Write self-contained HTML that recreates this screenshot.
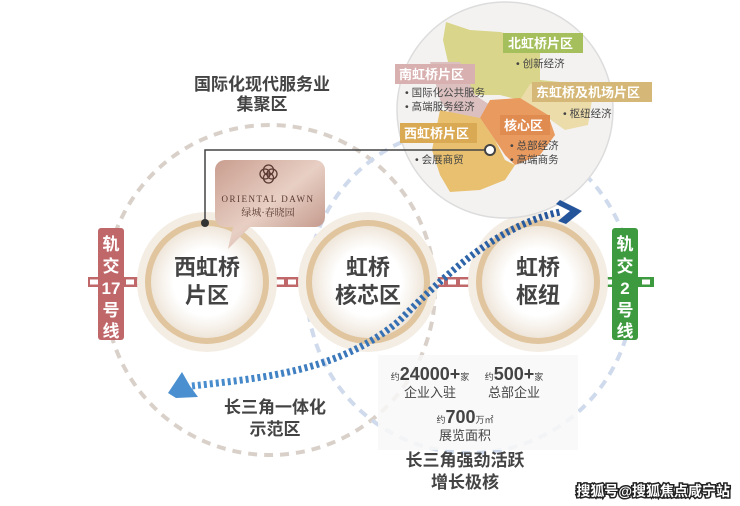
<!DOCTYPE html>
<html><head><meta charset="utf-8"><style>
html,body{margin:0;padding:0;background:#fff;}
svg{display:block;font-family:"Liberation Sans","Noto Sans CJK SC",sans-serif;}
</style></head><body>
<svg width="740" height="506" viewBox="0 0 740 506" xmlns="http://www.w3.org/2000/svg">
<defs>
<radialGradient id="inner" cx="50%" cy="50%" r="50%">
<stop offset="0.6" stop-color="#fff"/><stop offset="1" stop-color="#efe6da"/></radialGradient>
<linearGradient id="card" x1="0" y1="0" x2="1" y2="1">
<stop offset="0" stop-color="#c99e8f"/><stop offset="0.5" stop-color="#e8cfc4"/><stop offset="1" stop-color="#b98a7c"/></linearGradient>
<linearGradient id="blu" x1="0" y1="0" x2="1" y2="0">
<stop offset="0" stop-color="#4a90d0"/><stop offset="1" stop-color="#24549a"/></linearGradient>
</defs>
<circle cx="270" cy="290" r="165" fill="none" stroke="#d9d1c9" stroke-width="4" stroke-dasharray="9 7"/>
<circle cx="470" cy="290" r="163" fill="none" stroke="#cfdaec" stroke-width="4" stroke-dasharray="9 7"/>
<rect x="378" y="355" width="200" height="95" fill="#f8f8f8" opacity="0.85"/>
<g>
<rect x="88" y="277" width="70" height="10" fill="#c0676a"/>
<rect x="262" y="277" width="50" height="10" fill="#c0676a"/>
<rect x="422" y="277" width="62" height="10" fill="#c0676a"/>
<rect x="592" y="277" width="62" height="10" fill="#3e9a3e"/>
<g stroke="#fff" stroke-width="5" stroke-dasharray="8 4">
<line x1="90" y1="282" x2="158" y2="282"/><line x1="264" y1="282" x2="312" y2="282"/>
<line x1="424" y1="282" x2="484" y2="282"/><line x1="594" y1="282" x2="654" y2="282"/></g>
</g>
<g>
<circle cx="207" cy="282" r="70" fill="#f4ede4"/><circle cx="207" cy="282" r="62" fill="#e0c59e"/><circle cx="207" cy="282" r="56" fill="url(#inner)"/>
<circle cx="368" cy="282" r="70" fill="#f4ede4"/><circle cx="368" cy="282" r="62" fill="#e0c59e"/><circle cx="368" cy="282" r="56" fill="url(#inner)"/>
<circle cx="538" cy="282" r="70" fill="#f4ede4"/><circle cx="538" cy="282" r="62" fill="#e0c59e"/><circle cx="538" cy="282" r="56" fill="url(#inner)"/>
</g>
<g font-size="22" font-weight="bold" fill="#444" text-anchor="middle">
<text x="207" y="275">西虹桥</text><text x="207" y="303">片区</text>
<text x="368" y="275">虹桥</text><text x="368" y="303">核芯区</text>
<text x="538" y="275">虹桥</text><text x="538" y="303">枢纽</text>
</g>
<rect x="98" y="228" width="26" height="112" rx="3" fill="#c0676a"/>
<rect x="612" y="228" width="26" height="112" rx="3" fill="#3e9a3e"/>
<g font-size="17" font-weight="bold" fill="#fff" text-anchor="middle">
<text x="111" y="250">轨</text><text x="111" y="272">交</text><text x="111" y="294">17</text><text x="111" y="316">号</text><text x="111" y="337">线</text>
<text x="625" y="250">轨</text><text x="625" y="272">交</text><text x="625" y="294">2</text><text x="625" y="316">号</text><text x="625" y="337">线</text>
</g>
<circle cx="505" cy="110" r="108" fill="#f3f2f1" stroke="#dcdcdc" stroke-width="1.5"/>
<path d="M446,22 L470,30 L500,32 L525,38 L540,50 L540,80 L560,82 L545,100 L520,100 L500,95 L475,95 L460,70 L448,62 L443,40 Z" fill="#d9d58a"/>
<path d="M430,62 L460,62 L475,95 L490,105 L480,118 L455,120 L440,100 Z" fill="#dcc0c0"/>
<path d="M530,84 L575,84 L592,100 L588,125 L565,130 L548,118 L520,100 Z" fill="#ecdcaa"/>
<path d="M490,100 L520,98 L548,115 L555,135 L540,155 L515,165 L505,155 L495,140 L480,118 Z" fill="#e99a5e"/>
<path d="M440,110 L480,118 L495,140 L505,160 L515,165 L505,180 L480,190 L450,192 L440,175 L432,150 Z" fill="#e8c070"/>
<rect x="503" y="33" width="80" height="20" fill="#a5bf5c"/>
<rect x="395" y="64" width="80" height="20" fill="#d8b0b0"/>
<rect x="532" y="82" width="120" height="20" fill="#d5b877"/>
<rect x="500" y="115" width="50" height="20" fill="#e08b50"/>
<rect x="400" y="123" width="77" height="20" fill="#daa954"/>
<g font-size="13" font-weight="bold" fill="#fff">
<text x="508" y="48">北虹桥片区</text><text x="399" y="79">南虹桥片区</text>
<text x="536" y="97">东虹桥及机场片区</text><text x="504" y="130">核心区</text>
<text x="404" y="138">西虹桥片区</text></g>
<g font-size="10.5" fill="#444">
<text x="516" y="67">• 创新经济</text><text x="405" y="96">• 国际化公共服务</text><text x="405" y="110">• 高端服务经济</text>
<text x="563" y="117">• 枢纽经济</text><text x="510" y="149">• 总部经济</text><text x="510" y="163">• 高端商务</text>
<text x="415" y="163">• 会展商贸</text></g>
<polyline points="205,222 205,150 488,150" fill="none" stroke="#444" stroke-width="1.5"/>
<circle cx="490" cy="150" r="5" fill="#fff" stroke="#444" stroke-width="2"/>
<circle cx="205" cy="223" r="4" fill="#333"/>
<path d="M225,160 h90 a10,10 0 0 1 10,10 v47 a10,10 0 0 1 -10,10 h-65 l-22,22 l5,-22 h-8 a10,10 0 0 1 -10,-10 v-47 a10,10 0 0 1 10,-10 z" fill="url(#card)"/>
<g fill="none" stroke="#5a3a32" stroke-width="1.3"><circle cx="265" cy="174" r="5"/><circle cx="272" cy="174" r="5"/><circle cx="268.5" cy="170" r="5"/><circle cx="268.5" cy="178" r="5"/></g>
<text x="268" y="202" font-size="9" fill="#5a3a32" text-anchor="middle" font-family="Liberation Serif,serif" letter-spacing="1.5">ORIENTAL DAWN</text>
<text x="268" y="216" font-size="10" fill="#5a3a32" text-anchor="middle" font-family="'Liberation Serif','Noto Serif CJK SC',serif">绿城·春晓园</text>
<path d="M192,386 C260,378 340,372 400,320 C450,270 500,225 560,212" fill="none" stroke="url(#blu)" stroke-width="7" stroke-dasharray="3 3"/>
<path d="M182,372 L190,386 L198,397 L176,398 L168,393 Z" fill="#4a90d0"/>
<path d="M560,200 L582,211 L566,224 L558,221 L570,211 L556,204 Z" fill="#24549a"/>
<g font-size="17" font-weight="bold" fill="#444" text-anchor="middle">
<text x="262" y="90">国际化现代服务业</text><text x="262" y="110">集聚区</text>
<text x="275" y="413">长三角一体化</text><text x="275" y="435">示范区</text>
<text x="465" y="466">长三角强劲活跃</text><text x="465" y="488">增长极核</text>
</g>
<g fill="#444" text-anchor="middle">
<text x="430" y="380"><tspan font-size="9">约</tspan><tspan font-size="18" font-weight="bold">24000+</tspan><tspan font-size="9">家</tspan></text>
<text x="430" y="397" font-size="13">企业入驻</text>
<text x="514" y="380"><tspan font-size="9">约</tspan><tspan font-size="18" font-weight="bold">500+</tspan><tspan font-size="9">家</tspan></text>
<text x="514" y="397" font-size="13">总部企业</text>
<text x="465" y="423"><tspan font-size="9">约</tspan><tspan font-size="18" font-weight="bold">700</tspan><tspan font-size="9">万㎡</tspan></text>
<text x="465" y="440" font-size="13">展览面积</text>
</g>
<text x="730" y="496" font-size="14" font-weight="bold" fill="#fff" stroke="#222" stroke-width="3" paint-order="stroke" text-anchor="end">搜狐号@搜狐焦点咸宁站</text>
</svg>
</body></html>
